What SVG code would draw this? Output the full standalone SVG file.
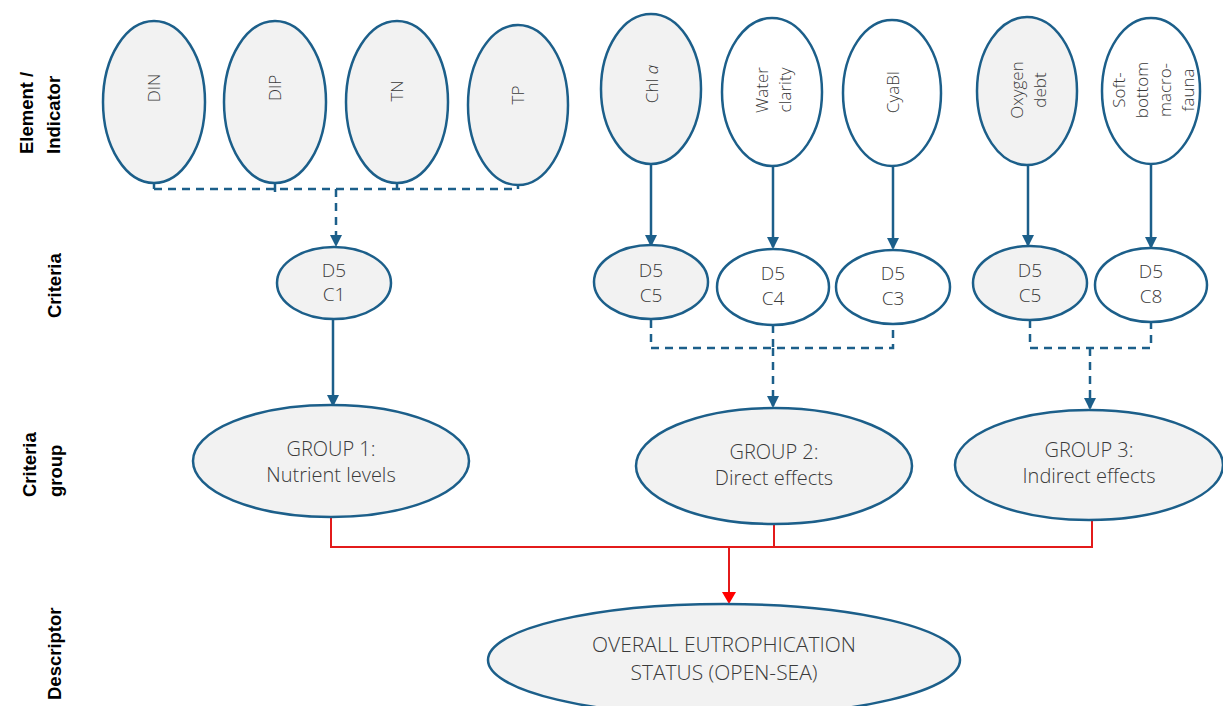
<svg xmlns="http://www.w3.org/2000/svg" width="1223" height="706" viewBox="0 0 1223 706">
<defs>
<style>
.g{fill:#f2f2f2;stroke:#1c5f8a;stroke-width:2.5}
.w{fill:#ffffff;stroke:#1c5f8a;stroke-width:2.5}
.t{font-family:"Open Sans","Liberation Sans",sans-serif;font-weight:300;fill:#3a3a3a;text-anchor:middle}
.c{dominant-baseline:central}
.s{font-size:17px}
.m{font-size:19px}
.l{font-size:20px}
.x{font-size:21px}
.lab{font-family:"Liberation Sans",Arial,sans-serif;font-weight:bold;font-size:18.5px;fill:#000}
.b{fill:none;stroke:#1c5f8a;stroke-width:2.5}
.d{fill:none;stroke:#1c5f8a;stroke-width:2.5;stroke-dasharray:8 6}
.r{fill:none;stroke:#e31b1b;stroke-width:2}
</style>
<marker id="ab" markerWidth="12" markerHeight="12" refX="10" refY="6" orient="auto" markerUnits="userSpaceOnUse" viewBox="0 0 12 12">
<path d="M0,0 L12,6 L0,12 z" fill="#1c5f8a"/>
</marker>
<marker id="ar" markerWidth="12" markerHeight="14" refX="10" refY="7" orient="auto" markerUnits="userSpaceOnUse" viewBox="0 0 12 14">
<path d="M0,0 L12,7 L0,14 z" fill="#ff0000"/>
</marker>
</defs>
<rect width="1223" height="706" fill="#ffffff"/>

<g id="row-labels">
<text class="lab" transform="translate(33,154) rotate(-90)">Element /</text>
<text class="lab" transform="translate(60,154) rotate(-90)">Indicator</text>
<text class="lab" transform="translate(61,318) rotate(-90)">Criteria</text>
<text class="lab" transform="translate(36,497) rotate(-90)">Criteria</text>
<text class="lab" transform="translate(62,497) rotate(-90)">group</text>
<text class="lab" transform="translate(61,700) rotate(-90)">Descriptor</text>
</g>

<g id="connectors">
<path class="d" d="M154,184 V189 M275,184 V193 M397,184 V189 M518,186 V189 M154,189 H518"/>
<path class="d" d="M336,189 V245" marker-end="url(#ab)"/>
<path class="b" d="M651,164 V245" marker-end="url(#ab)"/>
<path class="b" d="M773,166 V247" marker-end="url(#ab)"/>
<path class="b" d="M893,166 V248" marker-end="url(#ab)"/>
<path class="b" d="M1028,165 V245" marker-end="url(#ab)"/>
<path class="b" d="M1151,164 V247" marker-end="url(#ab)"/>
<path class="b" d="M333,319 V405" marker-end="url(#ab)"/>
<path class="d" d="M651,320 V348 H893 V325 M773,325 V348"/>
<path class="d" d="M773,348 V406" marker-end="url(#ab)"/>
<path class="d" d="M1030,320 V348 H1151 V322"/>
<path class="d" d="M1090,348 V408" marker-end="url(#ab)"/>
<path class="r" d="M331,517 V547 H1092 V520 M774,524 V547"/>
<path class="r" d="M729,547 V602" marker-end="url(#ar)"/>
</g>

<g id="n-din"><ellipse class="g" cx="154" cy="102" rx="51" ry="81"/><text class="t c s" transform="translate(153,88) rotate(-90)">DIN</text></g>
<g id="n-dip"><ellipse class="g" cx="275" cy="102" rx="51" ry="81"/><text class="t c s" transform="translate(274,88) rotate(-90)">DIP</text></g>
<g id="n-tn"><ellipse class="g" cx="397" cy="102" rx="51" ry="81"/><text class="t c s" transform="translate(396,91) rotate(-90)">TN</text></g>
<g id="n-tp"><ellipse class="g" cx="518" cy="105" rx="50" ry="80"/><text class="t c s" transform="translate(517,95) rotate(-90)">TP</text></g>
<g id="n-chla"><ellipse class="g" cx="651" cy="89" rx="50" ry="75"/><text class="t c s" transform="translate(651,84) rotate(-90)">Chl <tspan font-style="italic">a</tspan></text></g>
<g id="n-water"><ellipse class="w" cx="772" cy="92" rx="50" ry="74"/><text class="t c s" transform="translate(772,90) rotate(-90)"><tspan x="0" y="-11.5">Water</tspan><tspan x="0" y="11.5">clarity</tspan></text></g>
<g id="n-cyabi"><ellipse class="w" cx="892" cy="93" rx="49" ry="73"/><text class="t c s" transform="translate(892,92) rotate(-90)">CyaBI</text></g>
<g id="n-oxygen"><ellipse class="g" cx="1027" cy="91" rx="50" ry="74"/><text class="t c s" transform="translate(1027,90) rotate(-90)"><tspan x="0" y="-11.5">Oxygen</tspan><tspan x="0" y="11.5">debt</tspan></text></g>
<g id="n-soft"><ellipse class="w" cx="1151" cy="91" rx="49" ry="73"/><text class="t c s" transform="translate(1152,90) rotate(-90)"><tspan x="0" y="-34.5">Soft-</tspan><tspan x="0" y="-11.5">bottom</tspan><tspan x="0" y="11.5">macro-</tspan><tspan x="0" y="34.5">fauna</tspan></text></g>

<g id="n-d5c1"><ellipse class="g" cx="334" cy="283" rx="57" ry="36"/><text class="t m"><tspan x="334" y="277">D5</tspan><tspan x="334" y="301">C1</tspan></text></g>
<g id="n-d5c5a"><ellipse class="g" cx="651" cy="282" rx="57" ry="37"/><text class="t m"><tspan x="651" y="277">D5</tspan><tspan x="651" y="302">C5</tspan></text></g>
<g id="n-d5c4"><ellipse class="w" cx="773" cy="287" rx="56" ry="38"/><text class="t m"><tspan x="773" y="280">D5</tspan><tspan x="773" y="305">C4</tspan></text></g>
<g id="n-d5c3"><ellipse class="w" cx="893" cy="287" rx="57" ry="37"/><text class="t m"><tspan x="893" y="280">D5</tspan><tspan x="893" y="305">C3</tspan></text></g>
<g id="n-d5c5b"><ellipse class="g" cx="1030" cy="283" rx="57" ry="37"/><text class="t m"><tspan x="1030" y="277">D5</tspan><tspan x="1030" y="302">C5</tspan></text></g>
<g id="n-d5c8"><ellipse class="w" cx="1151" cy="285" rx="56" ry="37"/><text class="t m"><tspan x="1151" y="278">D5</tspan><tspan x="1151" y="303">C8</tspan></text></g>

<g id="n-group1"><ellipse class="g" cx="331" cy="461" rx="138" ry="56"/><text class="t l"><tspan x="331" y="456">GROUP 1:</tspan><tspan x="331" y="482">Nutrient levels</tspan></text></g>
<g id="n-group2"><ellipse class="g" cx="774" cy="466" rx="138" ry="58"/><text class="t l"><tspan x="774" y="459">GROUP 2:</tspan><tspan x="774" y="485">Direct effects</tspan></text></g>
<g id="n-group3"><ellipse class="g" cx="1089" cy="465" rx="134" ry="55"/><text class="t l"><tspan x="1089" y="457">GROUP 3:</tspan><tspan x="1089" y="483">Indirect effects</tspan></text></g>

<g id="n-overall"><ellipse class="g" cx="724" cy="660" rx="236" ry="56"/><text class="t x"><tspan x="724" y="652">OVERALL EUTROPHICATION</tspan><tspan x="724" y="680">STATUS (OPEN-SEA)</tspan></text></g>
</svg>
